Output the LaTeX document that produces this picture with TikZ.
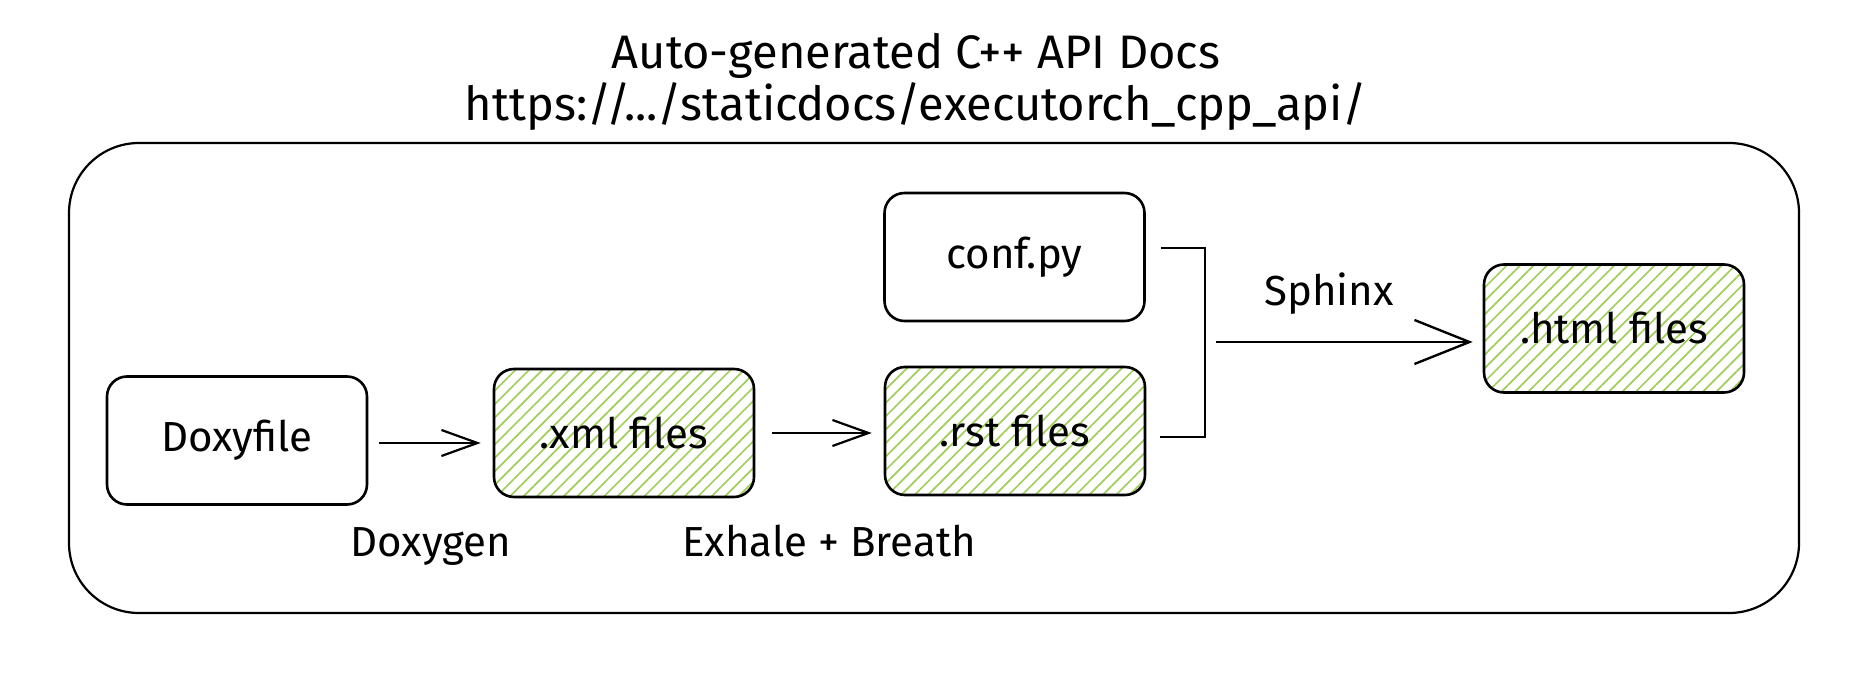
\documentclass[tikz,border=0pt]{standalone}
\usepackage{fontspec}
\setmainfont{Fira Sans}
\usetikzlibrary{arrows.meta,patterns.meta}
\definecolor{hatch}{RGB}{160,206,92}
\begin{document}
\begin{tikzpicture}[x=1pt,y=-1pt,
  box/.style={draw=black, line width=2.6pt, rounded corners=20pt, minimum width=260pt, minimum height=128pt, font=\fontsize{42}{48}\selectfont},
  hatched/.style={preaction={pattern={Lines[angle=45,distance=9.5pt,line width=1.7pt]},pattern color=hatch}},
  lbl/.style={font=\fontsize{42}{48}\selectfont},
  ttl/.style={font=\fontsize{47}{54}\selectfont},
  arr/.style={line width=2.2pt, -{Straight Barb[length=36pt,width=26pt,line width=2.2pt]}},
  bigarr/.style={line width=2.4pt, -{Straight Barb[length=55pt,width=44pt,line width=2.4pt]}}
]
\useasboundingbox (0,0) rectangle (1866,684);
\node[draw=black, line width=2.2pt, rounded corners=70pt, minimum width=1730pt, minimum height=470pt] (frame) at (934,378) {};
\node[ttl] (t1) at (916,56) {Auto-generated C++ API Docs};
\node[ttl] (t2) at (916,107) {https://.../staticdocs/executorch\_cpp\_api/};
\node[box] (doxy) at (237,440.5) {Doxyfile};
\node[box,hatched] (xml) at (624,433) {.xml files};
\node[box,hatched] (rst) at (1015,431) {.rst files};
\node[box] (conf) at (1014.5,257) {conf.py};
\node[box,hatched] (html) at (1614,328.5) {.html files};
\node[lbl] (lgen) at (431,547) {Doxygen};
\node[lbl] (lexh) at (829,541) {Exhale + Breath};
\node[lbl] (lsph) at (1329,294) {Sphinx};
\draw[arr] ([xshift=11pt,yshift=-2.5pt]doxy.east) -- ([xshift=-12pt,yshift=-10pt]xml.west);
\draw[arr] ([xshift=17pt]xml.east) -- ([xshift=-12pt,yshift=-2pt]rst.west);
\coordinate (b1) at (1205,248);
\coordinate (b2) at (1205,437);
\coordinate (sp) at (1216,342);
\draw[line width=2.4pt] ([xshift=15pt,yshift=9pt]conf.east) -- (b1) -- (b2) -- ([xshift=14pt,yshift=-6pt]rst.east);
\draw[bigarr] (sp) -- ([xshift=-10pt,yshift=-13.5pt]html.west);
\end{tikzpicture}
\end{document}
